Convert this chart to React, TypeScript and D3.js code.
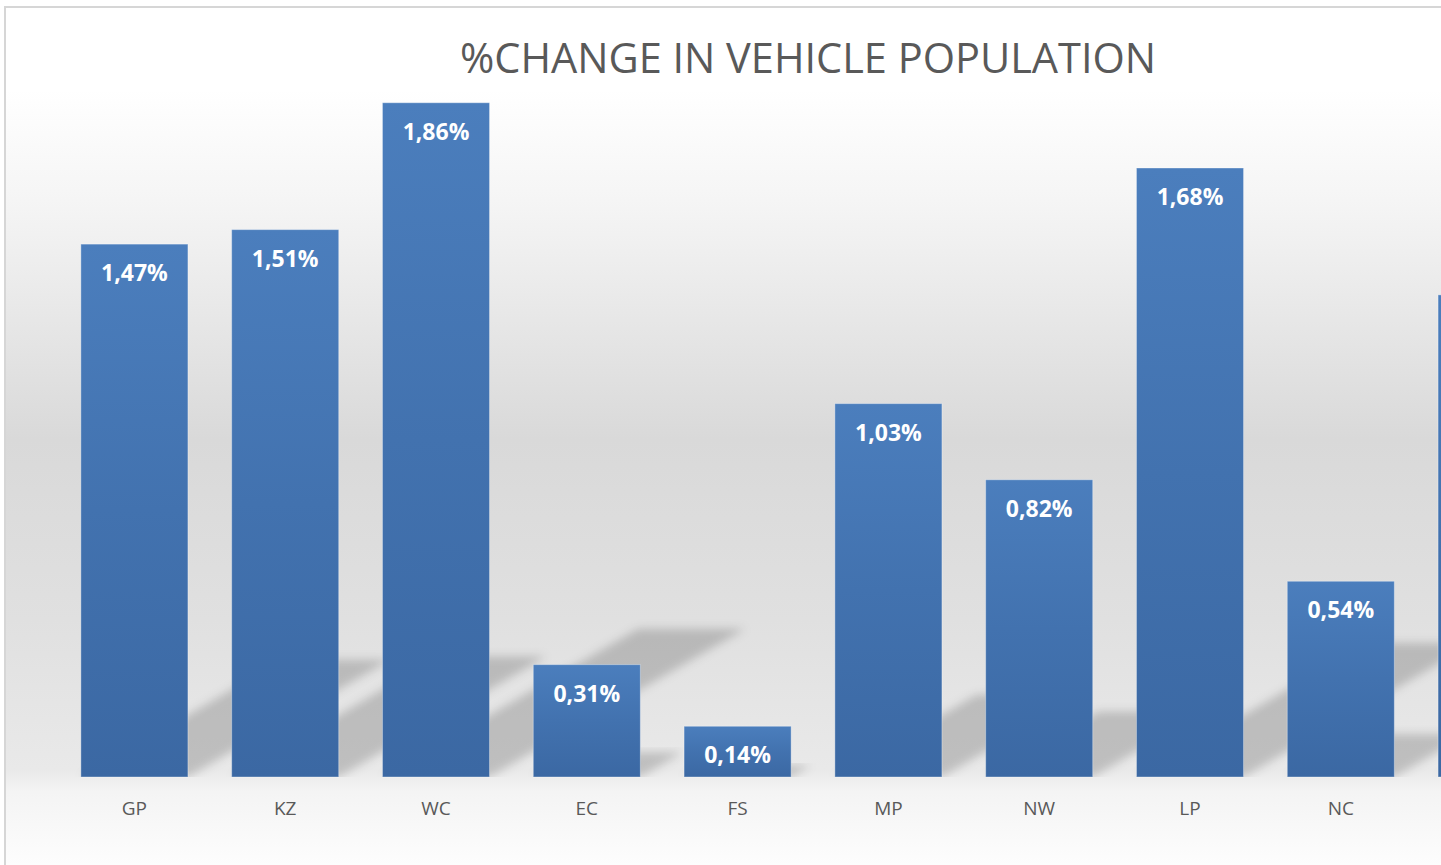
import React from "react";
import { scaleBand, scaleLinear, format } from "d3";

const categories = ["GP", "KZ", "WC", "EC", "FS", "MP", "NW", "LP", "NC", "RSA"];
const values = [1.47, 1.51, 1.86, 0.31, 0.14, 1.03, 0.82, 1.68, 0.54, 1.33];
const title = "%CHANGE IN VEHICLE POPULATION";

const width = 1441;
const height = 865;
const baseline = 777;

const pct = (v: number) => format(".2f")(v).replace(".", ",") + "%";

const App = () => {
  const xScale = scaleBand<string>()
    .domain(categories)
    .range([59, 1567])
    .paddingInner(0.29)
    .paddingOuter(0.145);

  const yScale = scaleLinear().domain([0, 2]).range([baseline, 52]);

  const bars = categories.map((c, i) => ({ cat: c, value: values[i] }));
  const centre = (c: string) => (xScale(c) as number) + xScale.bandwidth() / 2;
  // the last bar runs off the right edge, its texts are not in view
  const shown = bars.filter((d) => centre(d.cat) < width);

  // perspective shadow behind each bar, going up to the right
  const shadowPath = (d: { cat: string; value: number }) => {
    const x0 = xScale(d.cat) as number;
    const x1 = x0 + xScale.bandwidth();
    const h = baseline - yScale(d.value);
    const dy = h * 0.22;
    const dx = dy / 0.58;
    return `M${x0},${baseline}L${x1},${baseline}L${x1 + dx},${baseline - dy}L${x0 + dx},${baseline - dy}Z`;
  };

  return (
    <svg
      width={width}
      height={height}
      style={{ position: "absolute", left: 0, top: 0, background: "#fff" }}
    >
      <defs>
        <linearGradient id="bgGrad" gradientUnits="userSpaceOnUse" x1="0" y1="0" x2="0" y2={height}>
          <stop offset={90 / height} stopColor="#ffffff" />
          <stop offset={200 / height} stopColor="#f5f5f5" />
          <stop offset={440 / height} stopColor="#d9d9d9" />
          <stop offset={620 / height} stopColor="#e0e0e0" />
          <stop offset={770 / height} stopColor="#e9e9e9" />
          <stop offset={792 / height} stopColor="#f4f4f4" />
          <stop offset={1} stopColor="#fdfdfd" />
        </linearGradient>
        <linearGradient id="barGrad" x1="0" y1="0" x2="0" y2="1">
          <stop offset="0%" stopColor="#4b7ebd" />
          <stop offset="50%" stopColor="#4272af" />
          <stop offset="100%" stopColor="#3b68a3" />
        </linearGradient>
        <filter id="blur" x="-20%" y="-20%" width="140%" height="140%">
          <feGaussianBlur stdDeviation="5" />
        </filter>
        <clipPath id="plotClip">
          <rect x={7} y={8} width={width} height={baseline - 8} />
        </clipPath>
      </defs>

      <rect x={6} y={7} width={width} height={height} fill="url(#bgGrad)" />
      <line x1={5} y1={7} x2={width} y2={7} stroke="#d6d6d6" strokeWidth={2} />
      <line x1={5} y1={6} x2={5} y2={height} stroke="#d6d6d6" strokeWidth={2} />

      <text
        x={808}
        y={73}
        textAnchor="middle"
        fontFamily="'Open Sans', sans-serif"
        fontSize={42}
        fill="#595959"
        textLength={696}
        lengthAdjust="spacingAndGlyphs"
      >
        {title}
      </text>

      <g clipPath="url(#plotClip)">
        {bars.map((d) => (
          <path key={"s" + d.cat} d={shadowPath(d)} fill="#000" fillOpacity={0.18} filter="url(#blur)" />
        ))}
      </g>

      <g>
        {bars.map((d) => (
          <rect
            key={d.cat}
            x={xScale(d.cat)}
            y={yScale(d.value)}
            width={xScale.bandwidth()}
            height={baseline - yScale(d.value)}
            fill="url(#barGrad)"
            stroke="#ffffff"
            strokeOpacity={0.35}
            strokeWidth={1}
          />
        ))}
      </g>

      <g fontFamily="'Open Sans', sans-serif">
        {shown.map((d) => (
          <text
            key={"v" + d.cat}
            x={centre(d.cat)}
            y={yScale(d.value) + 28}
            textAnchor="middle"
            dominantBaseline="central"
            fontSize={23}
            fontWeight={700}
            fill="#ffffff"
          >
            {pct(d.value)}
          </text>
        ))}
      </g>

      <g fontFamily="'Open Sans', sans-serif">
        {shown.map((d) => (
          <text
            key={"x" + d.cat}
            x={centre(d.cat)}
            y={815}
            textAnchor="middle"
            fontSize={19}
            fill="#595959"
          >
            {d.cat}
          </text>
        ))}
      </g>
    </svg>
  );
};

export default App;
